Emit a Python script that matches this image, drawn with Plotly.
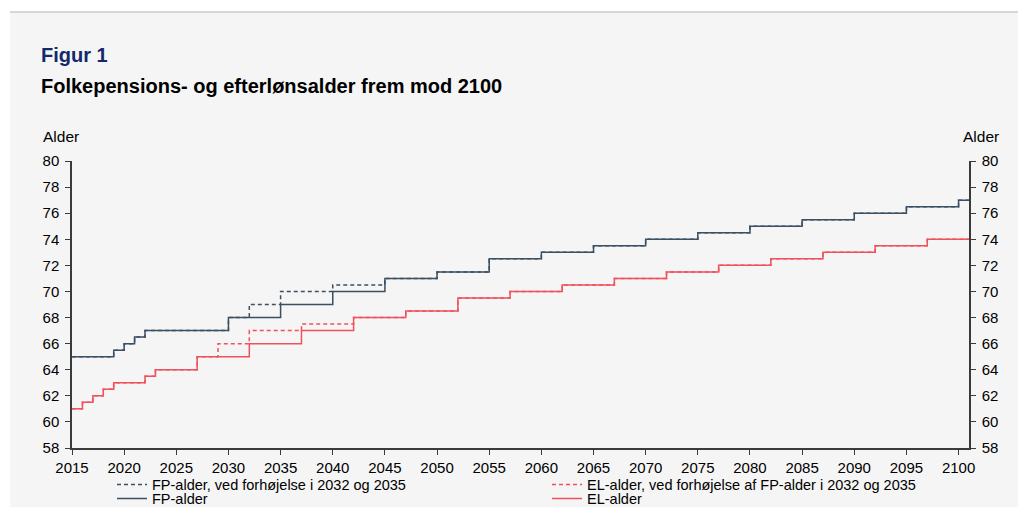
import plotly.graph_objects as go

# ---- data ----
fp_years = [2015, 2019, 2020, 2021, 2022, 2030, 2035, 2040, 2045, 2050, 2055, 2060,
            2065, 2070, 2075, 2080, 2085, 2090, 2095, 2100, 2101]
fp_age = [65, 65.5, 66, 66.5, 67, 68, 69, 70, 71, 71.5, 72.5, 73,
          73.5, 74, 74.5, 75, 75.5, 76, 76.5, 77, 77]

fp_alt_years = [2015, 2019, 2020, 2021, 2022, 2030, 2032, 2035, 2040, 2045, 2050, 2055, 2060,
                2065, 2070, 2075, 2080, 2085, 2090, 2095, 2100, 2101]
fp_alt_age = [65, 65.5, 66, 66.5, 67, 68, 69, 70, 70.5, 71, 71.5, 72.5, 73,
              73.5, 74, 74.5, 75, 75.5, 76, 76.5, 77, 77]

el_years = [2015, 2016, 2017, 2018, 2019, 2022, 2023, 2027, 2032, 2037, 2042, 2047,
            2052, 2057, 2062, 2067, 2072, 2077, 2082, 2087, 2092, 2097, 2101]
el_age = [61, 61.5, 62, 62.5, 63, 63.5, 64, 65, 66, 67, 68, 68.5,
          69.5, 70, 70.5, 71, 71.5, 72, 72.5, 73, 73.5, 74, 74]

el_alt_years = [2015, 2016, 2017, 2018, 2019, 2022, 2023, 2027, 2029, 2032, 2037, 2042, 2047,
                2052, 2057, 2062, 2067, 2072, 2077, 2082, 2087, 2092, 2097, 2101]
el_alt_age = [61, 61.5, 62, 62.5, 63, 63.5, 64, 65, 66, 67, 67.5, 68, 68.5,
              69.5, 70, 70.5, 71, 71.5, 72, 72.5, 73, 73.5, 74, 74]

x_ticks = list(range(2015, 2101, 5))
y_ticks = list(range(58, 81, 2))

names = ["FP-alder, ved forhøjelse i 2032 og 2035",
         "EL-alder, ved forhøjelse af FP-alder i 2032 og 2035",
         "FP-alder",
         "EL-alder"]

# ---- style ----
FP_COL = "#3c5064"
EL_COL = "#f0515c"
AXIS_COL = "#3a3a3a"
FONT = "Liberation Sans, Arial, sans-serif"

W, H = 1018, 507
L, R, T, B = 72, 49, 161, 59
PW, PH = W - L - R, H - T - B


def px(xp):
    return (xp - L) / PW


def py(yp):
    return (H - B - yp) / PH


fig = go.Figure()

fig.add_trace(go.Scatter(x=fp_alt_years, y=fp_alt_age, name=names[0], mode="lines",
                         line=dict(color=FP_COL, width=1.5, dash="4px,3px", shape="hv"),
                         legend="legend"))
fig.add_trace(go.Scatter(x=el_alt_years, y=el_alt_age, name=names[1], mode="lines",
                         line=dict(color=EL_COL, width=1.5, dash="4px,3px", shape="hv"),
                         legend="legend2"))
fig.add_trace(go.Scatter(x=fp_years, y=fp_age, name=names[2], mode="lines",
                         line=dict(color=FP_COL, width=1.5, shape="hv"),
                         legend="legend3"))
fig.add_trace(go.Scatter(x=el_years, y=el_age, name=names[3], mode="lines",
                         line=dict(color=EL_COL, width=1.5, shape="hv"),
                         legend="legend4"))
# right-hand axis copy (invisible helper trace so the axis is drawn)
fig.add_trace(go.Scatter(x=el_years, y=el_age, mode="lines", yaxis="y2",
                         line=dict(color="rgba(0,0,0,0)", width=0), showlegend=False,
                         hoverinfo="skip"))

legend_font = dict(family=FONT, size=14.5, color="#000000")


def leg(xp, yp):
    return dict(x=px(xp), y=py(yp), xanchor="left", yanchor="middle",
                orientation="h", bgcolor="rgba(0,0,0,0)", borderwidth=0,
                font=legend_font, itemclick=False, itemdoubleclick=False)


axis_common = dict(showline=True, linecolor=AXIS_COL, linewidth=1.5,
                   ticks="outside", ticklen=5, tickwidth=1.2, tickcolor=AXIS_COL,
                   showgrid=False, zeroline=False,
                   tickfont=dict(family=FONT, size=15, color="#000000"))

fig.update_layout(
    width=W, height=H,
    margin=dict(l=L, r=R, t=T, b=B, pad=0, autoexpand=False),
    paper_bgcolor="#ffffff",
    plot_bgcolor="rgba(0,0,0,0)",
    font=dict(family=FONT, color="#000000"),
    xaxis=dict(range=[2015, 2101], tickvals=x_ticks, **axis_common),
    yaxis=dict(range=[58, 80], tickvals=y_ticks, ticklabelstandoff=3, **axis_common),
    yaxis2=dict(range=[58, 80], tickvals=y_ticks, overlaying="y", side="right",
                anchor="x", ticklabelstandoff=3, **axis_common),
    legend=leg(112, 484.5),
    legend2=leg(547, 484.5),
    legend3=leg(112, 498.5),
    legend4=leg(547, 498.5),
    shapes=[
        dict(type="rect", xref="paper", yref="paper", x0=px(10), x1=px(1030),
             y0=py(12), y1=py(520), fillcolor="#f5f5f5", line=dict(width=0), layer="below"),
        dict(type="line", xref="paper", yref="paper", x0=px(10), x1=px(1030),
             y0=py(12), y1=py(12), line=dict(color="#b4b4b4", width=1.2), layer="below"),
    ],
    annotations=[
        dict(text="<b>Figur 1</b>", xref="paper", yref="paper", x=px(39), y=py(55),
             xanchor="left", yanchor="middle", showarrow=False,
             font=dict(family=FONT, size=20, color="#13296b")),
        dict(text="<b>Folkepensions- og efterlønsalder frem mod 2100</b>", xref="paper",
             yref="paper", x=px(39), y=py(86), xanchor="left", yanchor="middle",
             showarrow=False, font=dict(family=FONT, size=20, color="#000000")),
        dict(text="Alder", xref="paper", yref="paper", x=px(41), y=py(136),
             xanchor="left", yanchor="middle", showarrow=False,
             font=dict(family=FONT, size=15.5, color="#000000")),
        dict(text="Alder", xref="paper", yref="paper", x=px(961), y=py(136),
             xanchor="left", yanchor="middle", showarrow=False,
             font=dict(family=FONT, size=15.5, color="#000000")),
    ],
)

fig.write_html("out.html",
               config={"displayModeBar": False},
               post_script="document.body.style.margin='0';"
                           "document.documentElement.style.overflow='hidden';")
